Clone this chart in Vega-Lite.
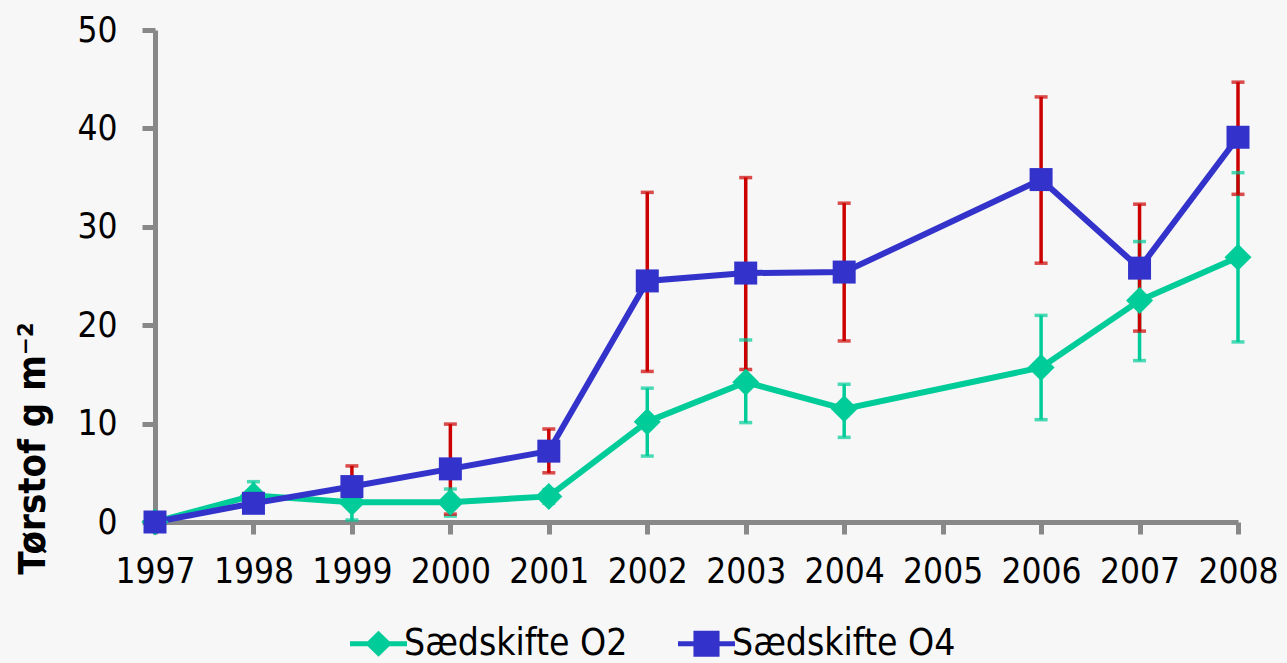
{
  "$schema": "https://vega.github.io/schema/vega-lite/v6.json",
  "width": 1083,
  "height": 492,
  "autosize": {"type": "none"},
  "padding": {"left": 155, "top": 30, "right": 49, "bottom": 141},
  "background": "#f7f7f7",
  "config": {
    "view": {"stroke": null},
    "font": "DejaVu Sans Condensed",
    "axis": {
      "domainColor": "#888888",
      "domainWidth": 5,
      "tickColor": "#888888",
      "tickWidth": 5,
      "grid": false,
      "labelColor": "#000000",
      "labelFont": "DejaVu Sans Condensed",
      "labelFontSize": 35,
      "labelFontWeight": "normal"
    }
  },
  "data": {
    "values": [
      {"year": "1997", "series": "Sædskifte O2", "value": 0, "lo": null, "hi": null},
      {"year": "1998", "series": "Sædskifte O2", "value": 2.7, "lo": 1.3, "hi": 4.1},
      {"year": "1999", "series": "Sædskifte O2", "value": 2.0, "lo": 0.2, "hi": 3.8},
      {"year": "2000", "series": "Sædskifte O2", "value": 2.0, "lo": 0.6, "hi": 3.35},
      {"year": "2001", "series": "Sædskifte O2", "value": 2.6, "lo": 1.9, "hi": 3.3},
      {"year": "2002", "series": "Sædskifte O2", "value": 10.2, "lo": 6.7, "hi": 13.6},
      {"year": "2003", "series": "Sædskifte O2", "value": 14.2, "lo": 10.1, "hi": 18.5},
      {"year": "2004", "series": "Sædskifte O2", "value": 11.5, "lo": 8.6, "hi": 14.0},
      {"year": "2006", "series": "Sædskifte O2", "value": 15.7, "lo": 10.4, "hi": 21.0},
      {"year": "2007", "series": "Sædskifte O2", "value": 22.5, "lo": 16.4, "hi": 28.5},
      {"year": "2008", "series": "Sædskifte O2", "value": 26.9, "lo": 18.3, "hi": 35.5},
      {"year": "1997", "series": "Sædskifte O4", "value": 0, "lo": null, "hi": null},
      {"year": "1998", "series": "Sædskifte O4", "value": 1.9, "lo": 1.4, "hi": 2.4},
      {"year": "1999", "series": "Sædskifte O4", "value": 3.6, "lo": 1.5, "hi": 5.7},
      {"year": "2000", "series": "Sædskifte O4", "value": 5.4, "lo": 0.8, "hi": 9.95},
      {"year": "2001", "series": "Sædskifte O4", "value": 7.2, "lo": 5.0, "hi": 9.45},
      {"year": "2002", "series": "Sædskifte O4", "value": 24.5, "lo": 15.3, "hi": 33.5},
      {"year": "2003", "series": "Sædskifte O4", "value": 25.3, "lo": 15.5, "hi": 35.0},
      {"year": "2004", "series": "Sædskifte O4", "value": 25.4, "lo": 18.4, "hi": 32.4},
      {"year": "2006", "series": "Sædskifte O4", "value": 34.8, "lo": 26.3, "hi": 43.2},
      {"year": "2007", "series": "Sædskifte O4", "value": 25.8, "lo": 19.4, "hi": 32.3},
      {"year": "2008", "series": "Sædskifte O4", "value": 39.1, "lo": 33.3, "hi": 44.7}
    ]
  },
  "encoding": {
    "x": {
      "field": "year",
      "type": "ordinal",
      "scale": {
        "type": "point",
        "padding": 0,
        "domain": ["1997", "1998", "1999", "2000", "2001", "2002", "2003", "2004", "2005", "2006", "2007", "2008"]
      },
      "axis": {
        "title": null,
        "labelAngle": 0,
        "tickSize": 12,
        "labelPadding": 20
      }
    },
    "y": {
      "field": "value",
      "type": "quantitative",
      "scale": {"domain": [0, 50], "nice": false},
      "axis": {
        "values": [0, 10, 20, 30, 40, 50],
        "tickSize": 13,
        "labelPadding": 25,
        "title": "Tørstof g m⁻²",
        "titleFont": "DejaVu Sans Condensed",
        "titleFontSize": 38,
        "titleFontWeight": "bold",
        "titleColor": "#000000",
        "titleX": -111,
        "titleY": 418,
        "titleAngle": -90,
        "titleAlign": "center",
        "titleBaseline": "alphabetic"
      }
    }
  },
  "layer": [
    {
      "transform": [{"filter": "false"}],
      "mark": {"type": "point", "filled": true, "opacity": 1},
      "encoding": {
        "color": {
          "field": "series",
          "type": "nominal",
          "scale": {"domain": ["Sædskifte O2", "Sædskifte O4"], "range": ["#00cc99", "#3333cc"]},
          "legend": {
            "title": null,
            "orient": "none",
            "direction": "horizontal",
            "legendX": 205,
            "legendY": 595,
            "padding": 0,
            "symbolSize": 900,
            "symbolStrokeWidth": 0,
            "symbolOpacity": 1,
            "labelFont": "DejaVu Sans Condensed",
            "labelFontSize": 37,
            "labelColor": "#000000",
            "labelOffset": 7,
            "labelLimit": 400,
            "columnPadding": 50
          }
        },
        "shape": {
          "field": "series",
          "type": "nominal",
          "scale": {
            "domain": ["Sædskifte O2", "Sædskifte O4"],
            "range": [
              "M-1.9,-0.17H-0.72L0,-0.87L0.72,-0.17H1.9V0.17H0.72L0,0.87L-0.72,0.17H-1.9Z",
              "M-1.9,-0.17H-0.87V-0.87H0.87V-0.17H1.9V0.17H0.87V0.87H-0.87V0.17H-1.9Z"
            ]
          }
        }
      }
    },
    {
      "mark": {"type": "rule", "strokeWidth": 3.5},
      "encoding": {
        "y": {"field": "lo", "type": "quantitative", "scale": {"domain": [0, 50], "nice": false}},
        "y2": {"field": "hi"},
        "color": {
          "field": "series",
          "type": "nominal",
          "scale": {"domain": ["Sædskifte O2", "Sædskifte O4"], "range": ["#00cc99", "#cc0000"]},
          "legend": null
        }
      }
    },
    {
      "mark": {"type": "tick", "orient": "horizontal", "thickness": 3.5, "size": 13, "color": "#00cc99"},
      "transform": [{"fold": ["lo", "hi"], "as": ["which", "bound"]}, {"filter": "datum.series === 'Sædskifte O2'"}],
      "encoding": {
        "y": {"field": "bound", "type": "quantitative", "scale": {"domain": [0, 50], "nice": false}}
      }
    },
    {
      "mark": {"type": "tick", "orient": "horizontal", "thickness": 3.5, "size": 13, "color": "#cc0000"},
      "transform": [{"fold": ["lo", "hi"], "as": ["which", "bound"]}, {"filter": "datum.series === 'Sædskifte O4'"}],
      "encoding": {
        "y": {"field": "bound", "type": "quantitative", "scale": {"domain": [0, 50], "nice": false}}
      }
    },
    {
      "mark": {"type": "line", "strokeWidth": 6},
      "encoding": {
        "color": {
          "field": "series",
          "type": "nominal",
          "scale": {"domain": ["Sædskifte O2", "Sædskifte O4"], "range": ["#00cc99", "#3333cc"]},
          "legend": null
        }
      }
    },
    {
      "transform": [{"filter": "datum.series === 'Sædskifte O2'"}],
      "mark": {"type": "point", "shape": "diamond", "filled": true, "opacity": 1, "size": 729, "color": "#00cc99"}
    },
    {
      "transform": [{"filter": "datum.series === 'Sædskifte O4'"}],
      "mark": {"type": "point", "shape": "square", "filled": true, "opacity": 1, "size": 529, "color": "#3333cc"}
    }
  ],
  "resolve": {"scale": {"color": "independent", "shape": "independent"}}
}
